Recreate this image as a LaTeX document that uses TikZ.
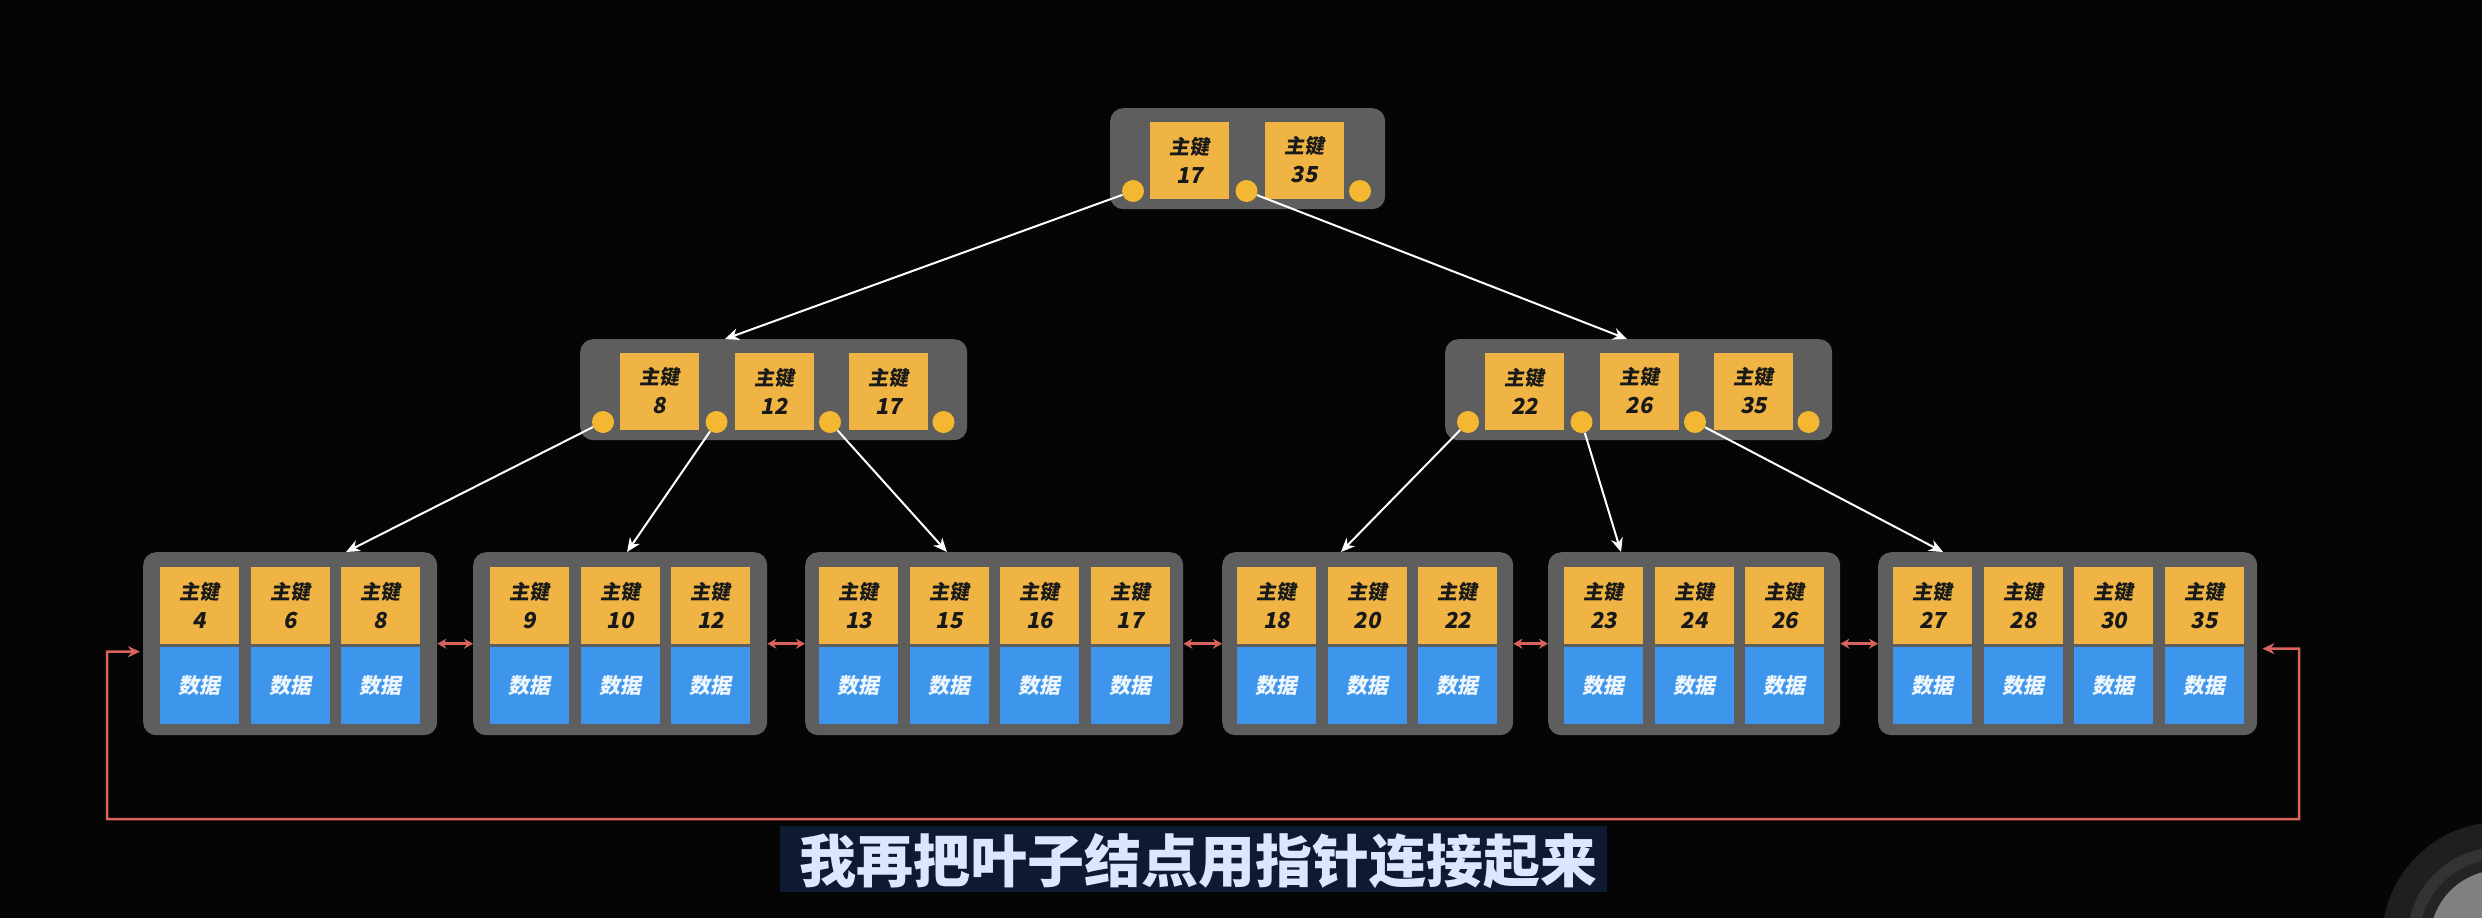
\documentclass[tikz,border=0pt]{standalone}
\usepackage{fontspec}
\newfontfamily\cjkb{Noto Sans CJK SC Black}[FakeSlant=0.18]
\newfontfamily\cjkh{Noto Sans CJK SC Black}
\usetikzlibrary{arrows.meta,calc}
\definecolor{bg}{HTML}{050505}
\definecolor{boxgray}{HTML}{5E5E5E}
\definecolor{keyy}{HTML}{EFB443}
\definecolor{datab}{HTML}{3E96EC}
\definecolor{dotc}{HTML}{F4B731}
\definecolor{linkr}{HTML}{D9645E}
\definecolor{capbg}{HTML}{0E1A32}
\definecolor{capfg}{HTML}{DCE6FF}
\tikzset{
  pnode/.style={fill=boxgray, draw=none, rounded corners=13pt, inner sep=0pt},
  keycell/.style={fill=keyy, minimum width=79pt, minimum height=77pt, inner sep=0pt,
    align=center, text=black!90, font=\cjkb\fontsize{20}{29}\selectfont},
  datacell/.style={fill=datab, minimum width=79pt, minimum height=77pt, inner sep=0pt,
    text=white!92!datab, font=\cjkb\fontsize{21}{28}\selectfont},
  dot/.style={circle, fill=dotc, minimum size=22pt, inner sep=0pt},
  ptr/.style={draw=white, line width=2pt, -{Stealth[length=14pt,width=12pt]}},
  sib/.style={draw=linkr, line width=2.5pt, {Stealth[length=9pt,width=10pt]}-{Stealth[length=9pt,width=10pt]}},
  ring/.style={draw=linkr, line width=2.5pt, {Stealth[length=12pt,width=11pt]}-{Stealth[length=12pt,width=11pt]}},
}
\newcommand\keytext[1]{主键\\{\fontsize{22}{29}\selectfont #1}}
% leaf: name, left, width, first cell left, keys
\newcommand\mkleaf[5]{%
  \node[pnode, anchor=north west, minimum width=#3pt, minimum height=183pt] (#1) at (#2,552) {};
  \foreach \k [count=\i] in {#5} {
    \pgfmathsetmacro\cx{#4+39.5+(\i-1)*90.5}
    \node[keycell] (#1k\i) at (\cx,605.5) {\keytext{\k}};
    \node[datacell] (#1d\i) at (\cx,685.5) {数据};
  }%
}
% inner node: name, left, top, width, keys, number of dots
\newcommand\mkinner[6]{%
  \node[pnode, anchor=north west, minimum width=#4pt, minimum height=101pt] (#1) at (#2,#3) {};
  \foreach \k [count=\i] in {#5} {
    \pgfmathsetmacro\cx{#2+79.5+(\i-1)*114.5}
    \pgfmathsetmacro\cy{#3+52}
    \node[keycell] (#1k\i) at (\cx,\cy) {\keytext{\k}};
  }%
  \foreach \i in {1,...,#6} {
    \pgfmathsetmacro\dx{#2+23+(\i-1)*113.5}
    \pgfmathsetmacro\dy{#3+83}
    \node[dot] (#1p\i) at (\dx,\dy) {};
  }%
}
\begin{document}
\begin{tikzpicture}[x=1pt,y=-1pt]
\useasboundingbox (0,0) rectangle (2482,918);
\fill[bg] (0,0) rectangle (2482,918);
% corner decoration
\fill[fill=black!88!white] (2500,940) circle (118);
\fill[fill=black!80!white] (2500,940) circle (93);
\fill[fill=black!86!white] (2500,940) circle (81);
\fill[fill=black!50!white] (2500,940) circle (70);

% root and inner nodes
\mkinner{R}{1110}{108}{275}{17,35}{3}
\mkinner{A}{580}{339}{387}{8,12,17}{4}
\mkinner{B}{1445}{339}{387}{22,26,35}{4}

% leaves
\mkleaf{L1}{143}{294}{160}{4,6,8}
\mkleaf{L2}{473}{294}{490}{9,10,12}
\mkleaf{L3}{805}{378}{819}{13,15,16,17}
\mkleaf{L4}{1222}{291}{1237}{18,20,22}
\mkleaf{L5}{1548}{292}{1564}{23,24,26}
\mkleaf{L6}{1878}{379}{1893}{27,28,30,35}

% pointer targets
\coordinate (tA) at (725,339);
\coordinate (tB) at (1627,339);
\coordinate (t1) at (346,552);
\coordinate (t2) at (627,552);
\coordinate (t3) at (947,552);
\coordinate (t4) at (1341,552);
\coordinate (t5) at (1621,552);
\coordinate (t6) at (1943,552);

\draw[ptr] (Rp1) -- (tA);
\draw[ptr] (Rp2) -- (tB);
\draw[ptr] (Ap1) -- (t1);
\draw[ptr] (Ap2) -- (t2);
\draw[ptr] (Ap3) -- (t3);
\draw[ptr] (Bp1) -- (t4);
\draw[ptr] (Bp2) -- (t5);
\draw[ptr] (Bp3) -- (t6);

% sibling links
\draw[sib] (L1.east) -- (L2.west);
\draw[sib] (L2.east) -- (L3.west);
\draw[sib] (L3.east) -- (L4.west);
\draw[sib] (L4.east) -- (L5.west);
\draw[sib] (L5.east) -- (L6.west);

% ring link
\coordinate (e6) at ([xshift=5pt,yshift=-5pt]L6.east);
\coordinate (e1) at ([xshift=-3pt,yshift=-8pt]L1.west);
\draw[ring] (e6) -- (2299,648.5) |- (107,819) |- (e1);

% caption
\node[fill=capbg, minimum width=827pt, minimum height=66pt, inner sep=0pt] (cap) at (1193.5,859) {};
\node[text=capfg, font=\cjkh\fontsize{57}{60}\selectfont, inner sep=0pt] (captxt) at (1198,861) {我再把叶子结点用指针连接起来};
\end{tikzpicture}
\end{document}
